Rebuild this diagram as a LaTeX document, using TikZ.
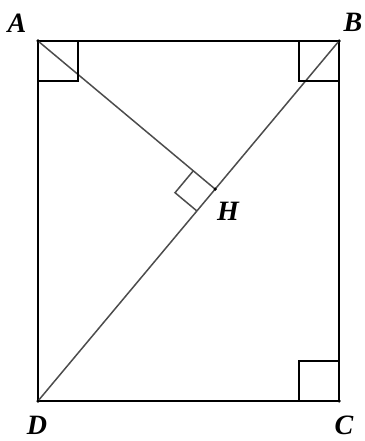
\documentclass[tikz,border=0pt]{standalone}
\usepackage{fontspec}
\setmainfont{Liberation Serif}
\usetikzlibrary{calc}
\begin{document}
\begin{tikzpicture}[x=1pt,y=-1pt,
  edge/.style={line width=1.2pt,black},
  diag/.style={line width=1.5pt,black!70},
  lbl/.style={font=\fontsize{28}{28}\selectfont\bfseries\itshape,inner sep=0pt},
  dot/.style={circle,fill=black,inner sep=0pt,minimum size=3.5pt}]
\useasboundingbox (0,0) rectangle (364,441);
\coordinate (A) at (38,41);
\coordinate (B) at (339,41);
\coordinate (C) at (339,401);
\coordinate (D) at (38,401);
\coordinate (H) at ($(B)!(A)!(D)$);
% rectangle
\draw[edge] (A) -- (B) -- (C) -- (D) -- cycle;
% diagonals
\draw[diag] (B) -- (D);
\draw[diag] (A) -- (H);
% right angle marks
\draw[edge] ($(A)+(40,0)$) -- ++(0,40) -- ++(-40,0);
\draw[edge] ($(B)+(-40,0)$) -- ++(0,40) -- ++(40,0);
\draw[edge] ($(C)+(-40,0)$) -- ++(0,-40) -- ++(40,0);
\coordinate (Ha) at ($(H)!28.5pt!(A)$);
\coordinate (Hd) at ($(H)!28.5pt!(D)$);
\draw[diag] (Ha) -- ($(Ha)+(Hd)-(H)$) -- (Hd);
% dots
\foreach \p in {A,B,C,D,H} \node[dot] at (\p) {};
% labels
\node[lbl] (lA) at (17,23) {A};
\node[lbl] (lB) at (353,22) {B};
\node[lbl] (lH) at (228,211) {H};
\node[lbl] (lD) at (37,425) {D};
\node[lbl] (lC) at (344,425) {C};
\end{tikzpicture}
\end{document}
